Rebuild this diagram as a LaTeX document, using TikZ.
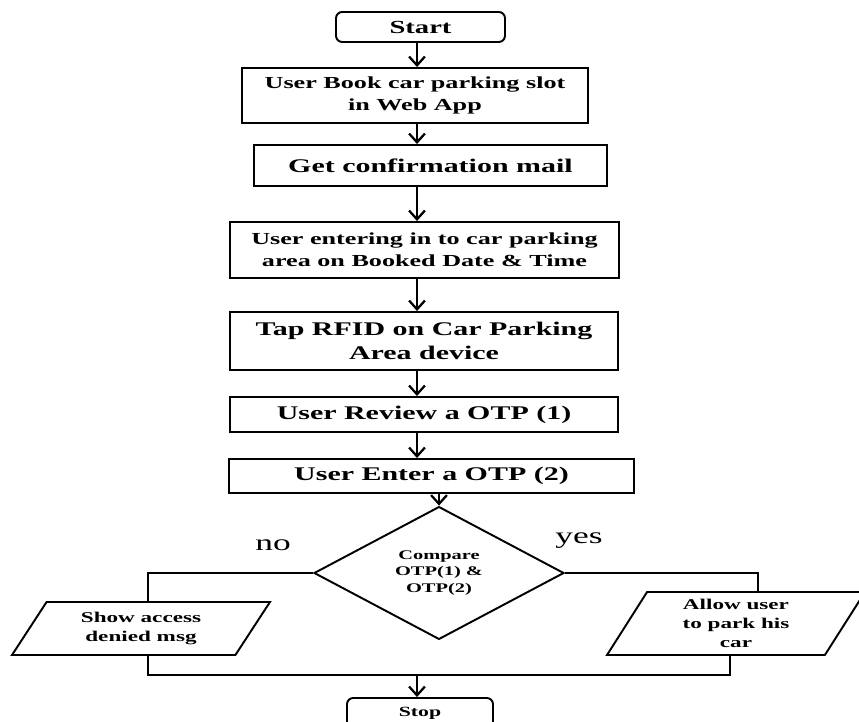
\documentclass[tikz,border=0pt]{standalone}
\usepackage{fontspec}
\setmainfont{Liberation Serif}[FakeStretch=1.55]
\usetikzlibrary{shapes.geometric,arrows.meta}

\begin{document}
\begin{tikzpicture}[
  x=0.02cm, y=-0.02cm,
  every node/.style={inner sep=1pt},
  term/.style={draw, line width=1.1pt, rounded corners=3.5pt,
    font=\bfseries\fontsize{10.5}{12}\selectfont},
  proc/.style={draw, line width=1.1pt, align=center,
    font=\bfseries\fontsize{11}{14}\selectfont},
  small/.style={font=\bfseries\fontsize{9.6}{12.3}\selectfont},
  decide/.style={diamond, draw, line width=1.1pt, align=center, inner sep=0pt,
    font=\bfseries\fontsize{7.5}{9.5}\selectfont},
  % input / output boxes, slanted
  io/.style={trapezium, draw, line width=1.1pt, align=center, outer sep=0pt,
    trapezium stretches body=true, font=\bfseries\fontsize{8.5}{10.6}\selectfont},
  line/.style={draw, line width=1.3pt},
  arrow/.style={line, -{Straight Barb[length=5pt, width=9pt]}},
  tag/.style={font=\fontsize{13}{15}\selectfont}]

  \useasboundingbox (0,0) rectangle (859,722);

  % vertices
  \node[term, minimum width=3.38cm, minimum height=0.60cm] (start) at (420.5,27) {Start};
  \node[proc, small, minimum width=6.92cm, minimum height=1.10cm] (book) at (415,95.5)
    {User Book car parking slot\\in Web App};
  \node[proc, minimum width=7.06cm, minimum height=0.82cm] (mail) at (430.5,165.5)
    {Get confirmation mail};
  \node[proc, small, minimum width=7.78cm, minimum height=1.12cm] (area) at (424.5,250)
    {User entering in to car parking\\area on Booked Date \& Time};
  \node[proc, minimum width=7.76cm, minimum height=1.16cm] (rfid) at (424,341)
    {Tap RFID on Car Parking\\Area device};
  \node[proc, minimum width=7.76cm, minimum height=0.70cm] (review) at (424,414.5)
    {User Review a OTP (1)};
  \node[proc, minimum width=8.10cm, minimum height=0.68cm] (otp) at (431.5,476)
    {User Enter a OTP (2)};
  \node[decide, minimum width=5.0cm, minimum height=2.36cm] (cmp) at (439,573)
    {Compare\\OTP(1) \&\\OTP(2)};
  \node[io, trapezium left angle=46, trapezium right angle=134,
    minimum width=5.16cm, minimum height=1.06cm] (deny) at (141,628.5)
    {Show access\\denied msg};
  \node[io, trapezium left angle=52, trapezium right angle=128,
    minimum width=5.16cm, minimum height=1.26cm] (allow) at (736,623.5)
    {Allow user\\to park his\\car};
  \node[term, font=\bfseries\fontsize{8}{10}\selectfont,
    minimum width=2.92cm, minimum height=0.60cm] (stop) at (420,713) {Stop};

  % bends of the connectors
  \coordinate (spine) at (417,0);
  \coordinate (lx) at (148,573);
  \coordinate (ry) at (758,573);
  \coordinate (base) at (148,675);
  \coordinate (rb) at (730,675);

  % arrows
  \draw[arrow] (start.south -| spine) -- (book.north -| spine);
  \draw[arrow] (book.south -| spine) -- (mail.north -| spine);
  \draw[arrow] (mail.south -| spine) -- (area.north -| spine);
  \draw[arrow] (area.south -| spine) -- (rfid.north -| spine);
  \draw[arrow] (rfid.south -| spine) -- (review.north -| spine);
  \draw[arrow] (review.south -| spine) -- (otp.north -| spine);
  \draw[arrow] (otp.south -| cmp.north) -- (cmp.north);
  \draw[line] (cmp.west) -- (lx) -- (lx |- deny.top side);
  \draw[line] (cmp.east) -- (ry) -- (ry |- allow.top side);
  \draw[line] (base |- deny.bottom side) -- (base) -- (rb) -- (rb |- allow.bottom side);
  \draw[arrow] (base -| spine) -- (stop.north -| spine);

  % labels printed inside the picture
  \node[tag] (no) at (273,545) {no};
  \node[tag] (yes) at (579,541) {yes};
\end{tikzpicture}
\end{document}
